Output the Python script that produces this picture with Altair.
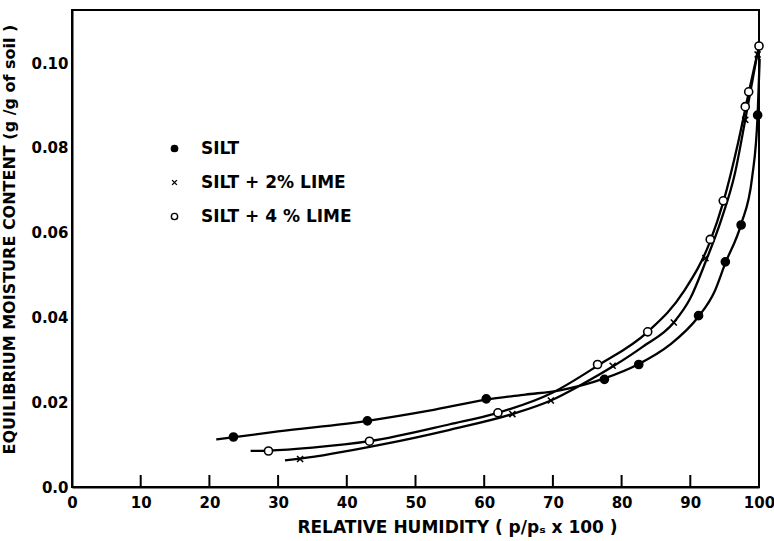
import altair as alt
import pandas as pd

# Series names (legend order)
SERIES = ["SILT", "SILT + 2% LIME", "SILT + 4 % LIME"]

# Measured points: relative humidity (%) and moisture content (g/g)
SILT_X = [23.5, 43.0, 60.3, 77.5, 82.5, 91.2, 95.1, 97.4, 99.8]
SILT_Y = [0.0118, 0.0156, 0.0208, 0.0254, 0.0289, 0.0404, 0.0531, 0.0618, 0.0877]

LIME2_X = [33.2, 64.1, 69.7, 78.7, 87.6, 92.2, 98.0, 99.8]
LIME2_Y = [0.0066, 0.0172, 0.0204, 0.0286, 0.0388, 0.0540, 0.0866, 0.1020]

LIME4_X = [28.6, 43.3, 62.0, 76.5, 83.8, 92.9, 94.8, 98.0, 98.5, 100.0]
LIME4_Y = [0.0085, 0.0108, 0.0175, 0.0289, 0.0366, 0.0584, 0.0675, 0.0897, 0.0932, 0.1040]

# Smoothed sorption curves drawn through the measurements
SILT_CX = [21.0, 30.0, 43.0, 52.0, 60.3, 66.0, 71.0, 77.5, 82.5, 87.0, 91.2, 93.5, 95.1, 97.4, 99.0, 99.8, 100.1]
SILT_CY = [0.0112, 0.0131, 0.0156, 0.0180, 0.0206, 0.0218, 0.0228, 0.0256, 0.0290, 0.0335, 0.0402, 0.0460, 0.0528, 0.0620, 0.0730, 0.0877, 0.1010]

LIME2_CX = [31.0, 33.2, 45.0, 55.0, 64.1, 69.7, 74.0, 78.7, 83.0, 87.6, 90.0, 92.2, 94.5, 96.5, 98.0, 99.8]
LIME2_CY = [0.0063, 0.0067, 0.0100, 0.0135, 0.0172, 0.0204, 0.0240, 0.0284, 0.0330, 0.0388, 0.0445, 0.0530, 0.0630, 0.0740, 0.0866, 0.1025]

LIME4_CX = [26.0, 28.6, 35.0, 43.3, 55.0, 62.0, 70.0, 76.5, 83.8, 89.0, 92.9, 94.8, 97.0, 98.5, 100.0]
LIME4_CY = [0.0085, 0.0086, 0.0093, 0.0108, 0.0148, 0.0175, 0.0223, 0.0286, 0.0366, 0.0460, 0.0580, 0.0672, 0.0815, 0.0930, 0.1040]

# Axis ticks
X_TICKS = [0, 10, 20, 30, 40, 50, 60, 70, 80, 90, 100]
Y_TICKS = [0.0, 0.02, 0.04, 0.06, 0.08, 0.10]
X_INNER_TICKS = [10, 20, 30, 40, 50, 60, 70, 80, 90]

W, H = 687, 477
FONT = "DejaVu Sans"
X_PATH = "M-0.75,-0.75L0.75,0.75M-0.75,0.75L0.75,-0.75"


def frame(series, xs, ys):
    return pd.DataFrame({"rh": xs, "emc": ys, "series": series})


points = pd.concat([
    frame(SERIES[0], SILT_X, SILT_Y),
    frame(SERIES[1], LIME2_X, LIME2_Y),
    frame(SERIES[2], LIME4_X, LIME4_Y),
], ignore_index=True)

curves = pd.concat([
    frame(SERIES[0], SILT_CX, SILT_CY),
    frame(SERIES[1], LIME2_CX, LIME2_CY),
    frame(SERIES[2], LIME4_CX, LIME4_CY),
], ignore_index=True)

x_scale = alt.Scale(domain=[0, 100], nice=False, zero=False)
y_scale = alt.Scale(domain=[0, 0.1125], nice=False)

x_axis = alt.Axis(
    values=X_TICKS, ticks=False, grid=False, labelFlush=False,
    labelFont=FONT, labelFontSize=15, labelFontWeight="bold", labelPadding=8,
    labelColor="black", domainColor="black", domainWidth=2,
    title="RELATIVE HUMIDITY ( p/pₛ x 100 )", titleFont=FONT, titleFontSize=17,
    titleFontWeight="bold", titleColor="black", titleX=385, titleY=40,
    titleBaseline="middle", titleAnchor="middle", titleAlign="center",
)
y_axis = alt.Axis(
    values=Y_TICKS, ticks=False, grid=False,
    labelExpr="datum.value == 0 ? '0.0' : format(datum.value, '.2f')",
    labelFont=FONT, labelFontSize=15, labelFontWeight="bold", labelPadding=4,
    labelColor="black", domainColor="black", domainWidth=2,
    title="EQUILIBRIUM  MOISTURE CONTENT (g /g of soil )", titleFont=FONT,
    titleFontSize=16, titleFontWeight="bold", titleColor="black",
    titleX=-63, titleY=229, titleAlign="center", titleBaseline="middle",
)

legend = alt.Legend(
    title=None, orient="none", legendX=94, legendY=130,
    labelFont=FONT, labelFontSize=17, labelFontWeight="bold",
    labelColor="black", symbolStrokeColor="black", symbolStrokeWidth=1.4,
    symbolSize=40, labelOffset=18, rowPadding=16,
)

lines = alt.Chart(curves).mark_line(
    color="black", strokeWidth=2.3, interpolate="monotone"
).encode(
    x=alt.X("rh:Q", scale=x_scale, axis=x_axis),
    y=alt.Y("emc:Q", scale=y_scale, axis=y_axis),
    detail="series:N",
)

marks = alt.Chart(points).mark_point(
    strokeWidth=1.6, opacity=1, size=65
).encode(
    x=alt.X("rh:Q", scale=x_scale),
    y=alt.Y("emc:Q", scale=y_scale),
    shape=alt.Shape(
        "series:N",
        scale=alt.Scale(domain=SERIES, range=["circle", X_PATH, "circle"]),
        legend=legend,
    ),
    fill=alt.Fill(
        "series:N",
        scale=alt.Scale(domain=SERIES, range=["black", "black", "white"]),
        legend=legend,
    ),
    stroke=alt.Stroke(
        "series:N",
        scale=alt.Scale(domain=SERIES, range=["black", "black", "black"]),
        legend=legend,
    ),
)

# Inward-pointing tick marks along the bottom axis
x_ticks = alt.Chart(pd.DataFrame({"rh": X_INNER_TICKS})).mark_tick(
    color="black", orient="vertical", size=12, thickness=2, opacity=1
).encode(
    x=alt.X("rh:Q", scale=x_scale),
    y=alt.value(H - 6),
)

chart = alt.layer(lines, x_ticks, marks).properties(
    width=W, height=H,
    autosize=alt.AutoSizeParams(type="none"),
    padding={"left": 72, "top": 10, "right": 15, "bottom": 54},
    background="white",
).configure_view(
    stroke="black", strokeWidth=2
)

chart.save("out.html", embed_options={"renderer": "svg", "actions": False})
